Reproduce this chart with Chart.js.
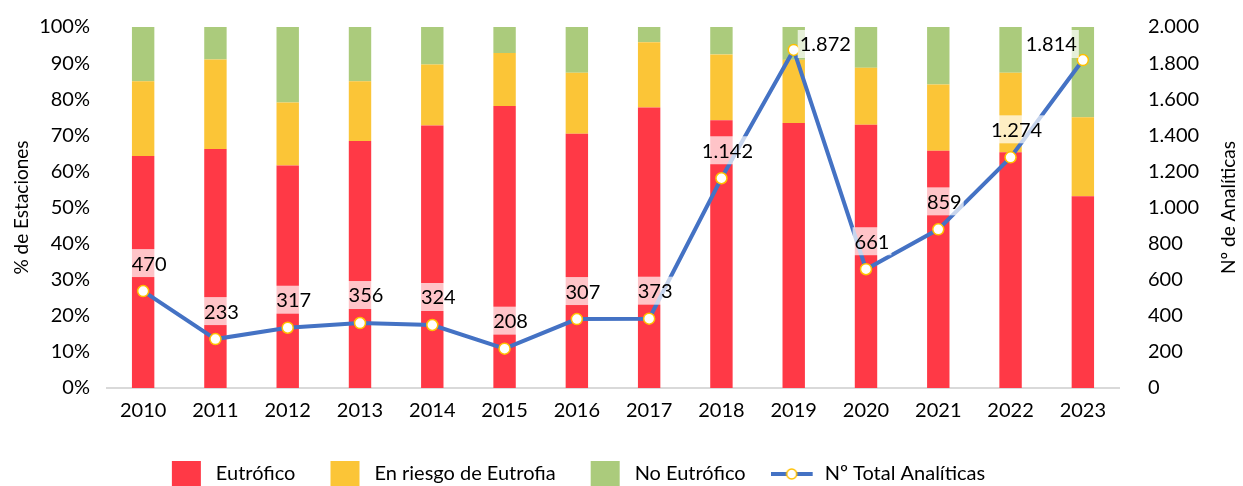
<!DOCTYPE html>
<html>
<head>
<meta charset="utf-8">
<script src="https://cdn.jsdelivr.net/npm/chart.js@4"></script>
<style>
  html, body { margin: 0; padding: 0; background: #fff; }
  #wrap { width: 1243px; height: 486px; }
</style>
</head>
<body>
<div id="wrap"><canvas id="chart" width="1243" height="486"></canvas></div>
<script>
const years = ['2010','2011','2012','2013','2014','2015','2016','2017','2018','2019','2020','2021','2022','2023'];
// % de estaciones por estado
const eutrofico = [64.3, 66.2, 61.6, 68.4, 72.7, 78.1, 70.4, 77.7, 74.2, 73.4, 72.9, 65.7, 65.3, 53.1];
const enRiesgo  = [20.7, 24.8, 17.5, 16.6, 16.9, 14.7, 16.9, 18.1, 18.2, 17.5, 15.8, 18.4, 22.0, 21.9];
const noEutrof  = [15.0,  9.0, 20.9, 15.0, 10.4,  7.2, 12.7,  4.2,  7.6,  9.1, 11.3, 15.9, 12.7, 25.0];
// Nº total de analíticas (posición de la línea) y etiquetas mostradas
const analiticas = [537, 271, 334, 360, 349, 218, 382, 384, 1162, 1873, 658, 879, 1278, 1817];
const etiquetas  = ['470','233','317','356','324','208','307','373','1.142','1.872','661','859','1.274','1.814'];

const FONT = "'Lato', 'Open Sans', sans-serif";
const RED = '#FF3946', YELLOW = '#FBC537', GREEN = '#ABCB7C', BLUE = '#4472C4', ORANGE = '#FFC000';

// iconos de leyenda (todos de 44px de ancho)
function boxIcon(color) {
    const c = document.createElement('canvas');
    c.width = 44; c.height = 26;
    const g = c.getContext('2d');
    g.fillStyle = color;
    g.fillRect(10, 0, 29, 26);
    return c;
}
function lineIcon() {
    const c = document.createElement('canvas');
    c.width = 44; c.height = 14;
    const g = c.getContext('2d');
    g.strokeStyle = BLUE; g.lineWidth = 4;
    g.beginPath(); g.moveTo(0, 7); g.lineTo(42, 7); g.stroke();
    g.fillStyle = '#fff'; g.strokeStyle = ORANGE; g.lineWidth = 1.5;
    g.beginPath(); g.arc(21, 7, 5, 0, Math.PI * 2); g.fill(); g.stroke();
    return c;
}

// etiquetas de la línea con fondo blanco semitransparente
const labelPlugin = {
    id: 'lineLabels',
    afterDatasetsDraw(chart) {
        const meta = chart.getDatasetMeta(3);
        const area = chart.chartArea;
        const ctx = chart.ctx;
        ctx.save();
        ctx.font = '20px ' + FONT;
        ctx.textAlign = 'center';
        ctx.textBaseline = 'middle';
        meta.data.forEach((pt, i) => {
            const txt = etiquetas[i];
            const w = ctx.measureText(txt).width + 4;
            let x = pt.x + 6, y = pt.y - 28;
            if (y < area.top + 14) {
                // sin sitio encima: al lado del punto
                y = area.top + 17;
                x = (pt.x + w + 6 < area.right) ? pt.x + 4 + w / 2 : pt.x - 4 - w / 2;
            }
            ctx.fillStyle = 'rgba(255,255,255,0.7)';
            ctx.fillRect(x - w / 2, y - 14, w, 28);
            ctx.fillStyle = '#000';
            ctx.fillText(txt, x, y + 1);
        });
        ctx.restore();
    }
};

// títulos de ejes verticales
const axisTitles = {
    id: 'axisTitles',
    afterDraw(chart) {
        const ctx = chart.ctx, a = chart.chartArea;
        const mid = (a.top + a.bottom) / 2;
        [[22, '% de Estaciones'], [1229, 'Nº de Analíticas']].forEach(([x, t]) => {
            ctx.save();
            ctx.font = '19px ' + FONT;
            ctx.fillStyle = '#000';
            ctx.textAlign = 'center';
            ctx.textBaseline = 'middle';
            ctx.translate(x, mid);
            ctx.rotate(-Math.PI / 2);
            ctx.fillText(t, 0, 0);
            ctx.restore();
        });
    }
};

// la leyenda del original está algo desplazada a la izquierda
const legendShift = {
    id: 'legendShift',
    afterLayout(chart) {
        if (chart.legend) {
            chart.legend.left -= 48;
            chart.legend.right -= 48;
        }
    }
};

const barStyle = { categoryPercentage: 1, barPercentage: 0.31, borderWidth: 0, yAxisID: 'y', stack: 's' };

new Chart(document.getElementById('chart'), {
    data: {
        labels: years,
        datasets: [
            { type: 'bar', label: 'Eutrófico', data: eutrofico, backgroundColor: RED, order: 2, ...barStyle },
            { type: 'bar', label: 'En riesgo de Eutrofia', data: enRiesgo, backgroundColor: YELLOW, order: 2, ...barStyle },
            { type: 'bar', label: 'No Eutrófico', data: noEutrof, backgroundColor: GREEN, order: 2, ...barStyle },
            {
                type: 'line', label: 'Nº Total Analíticas', data: analiticas, yAxisID: 'y1', order: 1,
                borderColor: BLUE, borderWidth: 4, tension: 0,
                pointBackgroundColor: '#fff', pointBorderColor: ORANGE, pointBorderWidth: 1.5, pointRadius: 5.5
            }
        ]
    },
    options: {
        responsive: false,
        animation: false,
        layout: { padding: { top: 27, bottom: -8, left: 0, right: 0 } },
        plugins: {
            tooltip: { enabled: false },
            legend: {
                position: 'bottom',
                labels: {
                    usePointStyle: true,
                    pointStyleWidth: 44,
                    padding: 25,
                    color: '#000',
                    font: { family: FONT, size: 20 },
                    generateLabels(chart) {
                        return chart.data.datasets.map((ds, i) => ({
                            text: ds.label,
                            pointStyle: i < 3 ? boxIcon(ds.backgroundColor) : lineIcon(),
                            datasetIndex: i,
                            fillStyle: 'transparent',
                            strokeStyle: 'transparent',
                            lineWidth: 0
                        }));
                    }
                }
            }
        },
        scales: {
            x: {
                stacked: true,
                grid: { display: false },
                border: { color: '#D9D9D9', width: 2 },
                ticks: { color: '#000', font: { family: FONT, size: 20 }, padding: 3 },
                afterFit(s) { s.height = 51; }
            },
            y: {
                stacked: true,
                position: 'left',
                min: 0, max: 100,
                grid: { display: false },
                border: { display: false },
                ticks: {
                    stepSize: 10, color: '#000', padding: 9,
                    font: { family: FONT, size: 20 },
                    callback: v => v + '%'
                },
                afterFit(s) { s.width = 107; s.paddingTop = 12; s.paddingBottom = 12; }
            },
            y1: {
                position: 'right',
                min: 0, max: 2000,
                grid: { display: false },
                border: { display: false },
                ticks: {
                    stepSize: 200, color: '#000', padding: 21,
                    font: { family: FONT, size: 20 },
                    callback: v => v.toLocaleString('de-DE')
                },
                afterFit(s) { s.width = 124; s.paddingTop = 12; s.paddingBottom = 12; }
            }
        }
    },
    plugins: [labelPlugin, axisTitles, legendShift]
});
</script>
</body>
</html>
